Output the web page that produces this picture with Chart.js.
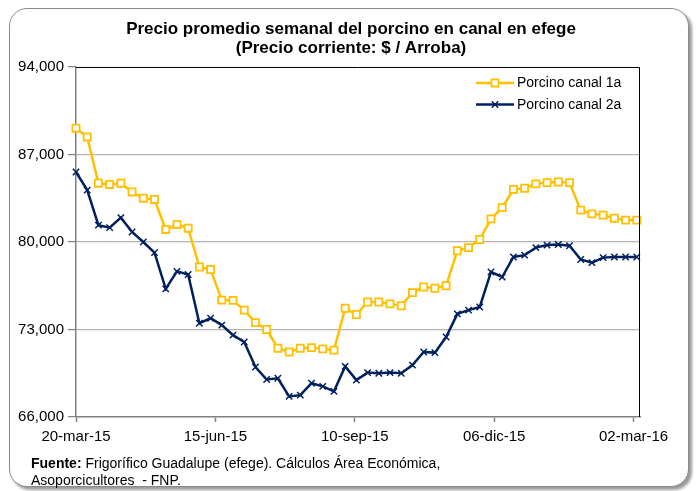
<!DOCTYPE html>
<html><head><meta charset="utf-8">
<script src="https://cdn.jsdelivr.net/npm/chart.js@4/dist/chart.umd.min.js"></script>
<style>
html,body{margin:0;padding:0;background:#fff;}
#wrap{position:relative;width:697px;height:491px;overflow:hidden;}
#frame{position:absolute;left:9px;top:8px;width:678px;height:477px;border:1px solid #8a8a8a;border-radius:18px;box-shadow:3px 3px 3px #9a9a9a;background:#fff;}
canvas{position:absolute;left:0;top:0;}
#src{position:absolute;left:31px;top:455px;font:14px "Liberation Sans",Arial,sans-serif;line-height:17px;color:#000;}
</style></head>
<body><div id="wrap"><div id="frame"></div><canvas id="c" width="697" height="491"></canvas><div id="src"><b>Fuente:</b> Frigorífico Guadalupe (efege). Cálculos Área Económica,<br>Asoporcicultores &nbsp;- FNP.</div></div>
<script>
const FONT = '"Liberation Sans", Arial, sans-serif';

const weekDates = [
 '2015-03-20','2015-03-27','2015-04-03','2015-04-10','2015-04-17','2015-04-24',
 '2015-05-01','2015-05-08','2015-05-15','2015-05-22','2015-05-29',
 '2015-06-05','2015-06-12','2015-06-19','2015-06-26',
 '2015-07-03','2015-07-10','2015-07-17','2015-07-24','2015-07-31',
 '2015-08-07','2015-08-14','2015-08-21','2015-08-28',
 '2015-09-04','2015-09-11','2015-09-18','2015-09-25',
 '2015-10-02','2015-10-09','2015-10-16','2015-10-23','2015-10-30',
 '2015-11-06','2015-11-13','2015-11-20','2015-11-27',
 '2015-12-04','2015-12-11','2015-12-18','2015-12-25',
 '2016-01-01','2016-01-08','2016-01-15','2016-01-22','2016-01-29',
 '2016-02-05','2016-02-12','2016-02-19','2016-02-26','2016-03-04'
];

const canal1a = [
 89100,88400,84700,84600,84700,84000,83500,83400,81000,81400,81100,
 78000,77800,75350,75330,74550,73550,73000,71500,71200,71500,71550,71450,71350,
 74700,74200,75200,75200,75050,74900,75950,76400,76300,76500,79300,79550,80200,
 81850,82750,84200,84300,84650,84750,84800,84750,82550,82250,82150,81900,81750,81750
];

const canal2a = [
 85600,84150,81350,81150,81950,80800,80000,79150,76250,77650,77400,
 73500,73900,73350,72550,72000,70000,69000,69100,67650,67750,68700,68450,68050,
 70050,68950,69550,69500,69550,69500,70150,71200,71150,72400,74250,74550,74800,
 77600,77200,78800,78950,79550,79750,79800,79700,78600,78350,78750,78800,78800,78800
];

const seriesLabels = ['Porcino canal 1a','Porcino canal 2a'];
const xTickDates = ['2015-03-20','2015-06-15','2015-09-10','2015-12-06','2016-03-02'];
const xTickLabels = ['20-mar-15','15-jun-15','10-sep-15','06-dic-15','02-mar-16'];
const yTickValues = [66000,73000,80000,87000,94000];

const DAY = 86400000;
const t0 = Date.parse(weekDates[0] + 'T00:00:00Z');
const dayOffset = d => Math.round((Date.parse(d + 'T00:00:00Z') - t0) / DAY);

function drawMarker(ctx, style, x, y, r) {
  ctx.beginPath();
  if (style === 'rect') {
    const s = r * Math.SQRT1_2;
    ctx.rect(x - s, y - s, 2 * s, 2 * s);
    ctx.fill(); ctx.stroke();
  } else {
    const s = r * Math.SQRT1_2;
    ctx.moveTo(x - s, y - s); ctx.lineTo(x + s, y + s);
    ctx.moveTo(x - s, y + s); ctx.lineTo(x + s, y - s);
    ctx.stroke();
  }
}

const boxLegend = {
  id: 'boxLegend',
  afterLayout(chart) {
    if (chart.titleBlock) chart.titleBlock.left = 62;
  },
  afterDraw(chart) {
    const { ctx, chartArea: a } = chart;
    ctx.save();
    ctx.strokeStyle = '#000'; ctx.lineWidth = 1;
    ctx.beginPath();
    ctx.moveTo(a.left, a.top + 0.5); ctx.lineTo(a.right - 0.5, a.top + 0.5); ctx.lineTo(a.right - 0.5, a.bottom);
    ctx.stroke();
    chart.data.datasets.forEach((ds, i) => {
      const y = a.top + 16 + i * 21.5;
      const x0 = a.right - 164, x1 = a.right - 126;
      ctx.strokeStyle = ds.borderColor; ctx.lineWidth = 2.5;
      ctx.beginPath(); ctx.moveTo(x0, y); ctx.lineTo(x1, y); ctx.stroke();
      ctx.fillStyle = ds.pointBackgroundColor; ctx.strokeStyle = ds.pointBorderColor; ctx.lineWidth = ds.pointBorderWidth;
      drawMarker(ctx, ds.pointStyle, (x0 + x1) / 2, y, ds.pointRadius);
      ctx.fillStyle = '#000'; ctx.font = '14px ' + FONT;
      ctx.textBaseline = 'middle'; ctx.textAlign = 'left';
      ctx.fillText(ds.label, a.right - 123, y + 0.5);
    });
    ctx.restore();
  }
};

new Chart(document.getElementById('c'), {
  type: 'line',
  data: {
    datasets: [
      {
        label: seriesLabels[0],
        data: weekDates.map((d, i) => ({ x: dayOffset(d), y: canal1a[i] })),
        borderColor: '#FFC000', borderWidth: 2.5, tension: 0, clip: false,
        pointStyle: 'rect', pointRadius: 5, pointBackgroundColor: '#ffffff',
        pointBorderColor: '#FFC000', pointBorderWidth: 1.8
      },
      {
        label: seriesLabels[1],
        data: weekDates.map((d, i) => ({ x: dayOffset(d), y: canal2a[i] })),
        borderColor: '#002060', borderWidth: 2.5, tension: 0, clip: false,
        pointStyle: 'crossRot', pointRadius: 4.5, pointBackgroundColor: '#002060',
        pointBorderColor: '#002060', pointBorderWidth: 1.5
      }
    ]
  },
  options: {
    responsive: false, animation: false, devicePixelRatio: 1,
    layout: { padding: { left: 0, right: 57, top: 0, bottom: 0 } },
    plugins: {
      legend: { display: false },
      tooltip: { enabled: false },
      title: {
        display: true,
        text: ['Precio promedio semanal del porcino en canal en efege', '(Precio corriente: $ / Arroba)'],
        color: '#000',
        font: { family: FONT, size: 17, weight: 'bold', lineHeight: 1.12 },
        padding: { top: 19.5, bottom: 9.4 }
      }
    },
    scales: {
      x: {
        type: 'linear', min: 0, max: 352,
        afterBuildTicks: s => { s.ticks = xTickDates.map(d => ({ value: dayOffset(d) })); },
        afterFit: s => { s.height = 74; },
        ticks: {
          autoSkip: false, maxRotation: 0, color: '#000', padding: 6,
          font: { family: FONT, size: 15 },
          callback: (v, i) => xTickLabels[i]
        },
        grid: { drawOnChartArea: false, tickLength: 5, tickColor: '#808080', tickWidth: 1.5 },
        border: { color: '#808080', width: 1.5 }
      },
      y: {
        min: 66000, max: 94000,
        afterBuildTicks: s => { s.ticks = yTickValues.map(v => ({ value: v })); },
        afterFit: s => { s.width = 76; },
        ticks: {
          color: '#000', padding: 4,
          font: { family: FONT, size: 15 },
          callback: v => v.toLocaleString('en-US')
        },
        grid: {
          color: c => (c.tick && (c.tick.value === 66000 || c.tick.value === 94000)) ? 'rgba(0,0,0,0)' : '#b4b4b4',
          lineWidth: 1.2, tickLength: 8, tickColor: '#808080'
        },
        border: { color: '#808080', width: 1.5 }
      }
    }
  },
  plugins: [boxLegend]
});
</script>
</body></html>
